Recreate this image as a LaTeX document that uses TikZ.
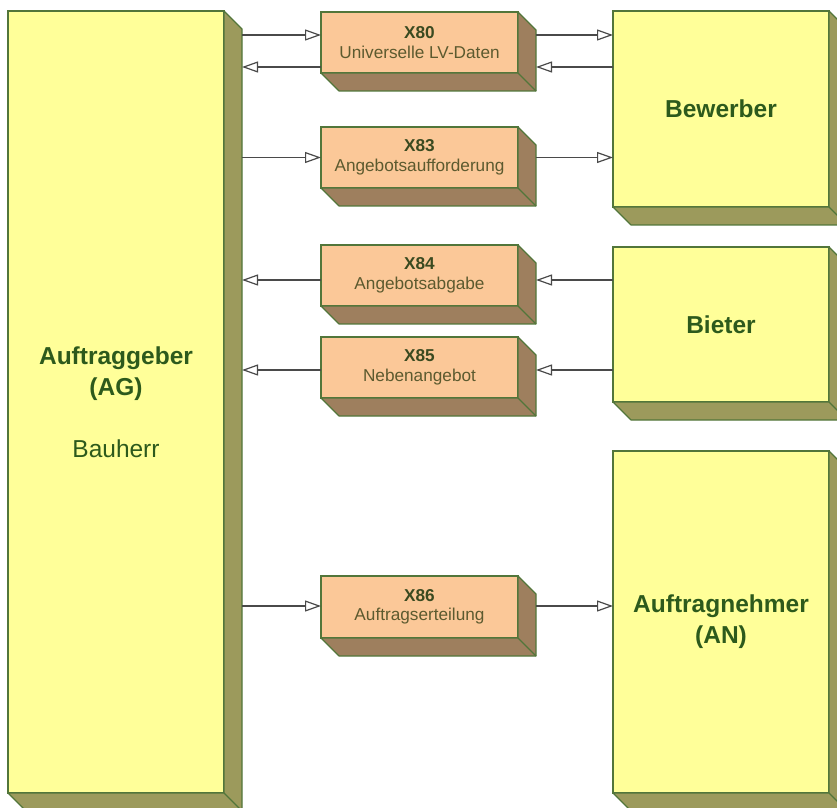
\documentclass[tikz,border=0pt]{standalone}
\usepackage{fontspec}
\setmainfont{Liberation Sans}
\usetikzlibrary{arrows.meta,calc}
\definecolor{partyfill}{HTML}{FFFF99}
\definecolor{partyside}{HTML}{9C9A5C}
\definecolor{msgfill}{HTML}{FBC898}
\definecolor{msgside}{HTML}{9E7F5E}
\definecolor{edge}{HTML}{52763A}
\definecolor{partytext}{HTML}{2D5A1C}
\definecolor{msgtitle}{HTML}{3A4A20}
\definecolor{msgtext}{HTML}{5C5A2F}
\definecolor{wire}{HTML}{4A4A4A}
\newcommand{\dep}{18pt}

\begin{document}
\begin{tikzpicture}[
        x=1pt,
        y=1pt,
        party/.style={
          draw=edge,
          fill=partyfill,
          line width=1.2pt,
          anchor=north west,
          outer sep=0pt,
          inner sep=0pt,
          minimum width=216pt,
          align=center,
          text=partytext,
          font=\fontsize{24.5}{31}\selectfont\bfseries
          },
        msg/.style={
          draw=edge,
          fill=msgfill,
          line width=1.2pt,
          anchor=north west,
          outer sep=0pt,
          inner sep=0pt,
          minimum width=197pt,
          minimum height=61pt,
          align=center,
          text=msgtext,
          font=\fontsize{17.2}{19.5}\selectfont
          },
        wireline/.style={
          draw=wire,
          line width=1.2pt
          },
        >={Triangle[open,length=16pt,width=11pt]}
        ]
        \useasboundingbox (0,0) rectangle (837,807);
        % parties
        \node[party, minimum height=782pt] (ag) at (8,796)
          {Auftraggeber\\(AG)\\[31pt]{\mdseries Bauherr}};
        \node[party, minimum height=196pt] (bew) at (613,796) {Bewerber};
        \node[party, minimum height=155pt] (bie) at (613,560) {Bieter};
        \node[party, minimum height=342pt] (an) at (613,356) {Auftragnehmer\\(AN)};
        % messages
        \node[msg] (x80) at (321,795) {\textcolor{msgtitle}{\bfseries X80}\\Universelle LV-Daten};
        \node[msg] (x83) at (321,680) {\textcolor{msgtitle}{\bfseries X83}\\Angebotsaufforderung};
        \node[msg] (x84) at (321,562) {\textcolor{msgtitle}{\bfseries X84}\\Angebotsabgabe};
        \node[msg] (x85) at (321,470) {\textcolor{msgtitle}{\bfseries X85}\\Nebenangebot};
        \node[msg, minimum height=62pt] (x86) at (321,231) {\textcolor{msgtitle}{\bfseries X86}\\Auftragserteilung};
        % depth of the boxes
        \foreach \n/\c in {ag/partyside,bew/partyside,bie/partyside,an/partyside,
                           x80/msgside,x83/msgside,x84/msgside,x85/msgside,x86/msgside}
        {
          \filldraw[fill=\c, draw=edge, line width=1.2pt, line join=round]
            (\n.north east) -- ++(\dep,-\dep) -- ([shift={(\dep,-\dep)}]\n.south east)
            -- ([shift={(\dep,-\dep)}]\n.south west) -- (\n.south west) -- (\n.south east) -- cycle;
          \draw[edge, line width=1.2pt] (\n.south east) -- ++(\dep,-\dep);
        }
        % flows
        \foreach \b/\t/\dy/\dir in {x80/bew/7.5/->, x80/bew/-24.5/<-, x83/bew/0/->,
                                    x84/bie/-4.5/<-, x85/bie/-2.5/<-, x86/an/1/->}
        {
          \draw[wireline, \dir] ([xshift=\dep, yshift=\dy pt]ag.east |- \b.west) -- ([yshift=\dy pt]\b.west);
          \draw[wireline, \dir] ([xshift=\dep, yshift=\dy pt]\b.east) -- ([yshift=\dy pt]\t.west |- \b.east);
        }
        \end{tikzpicture}
\end{document}
